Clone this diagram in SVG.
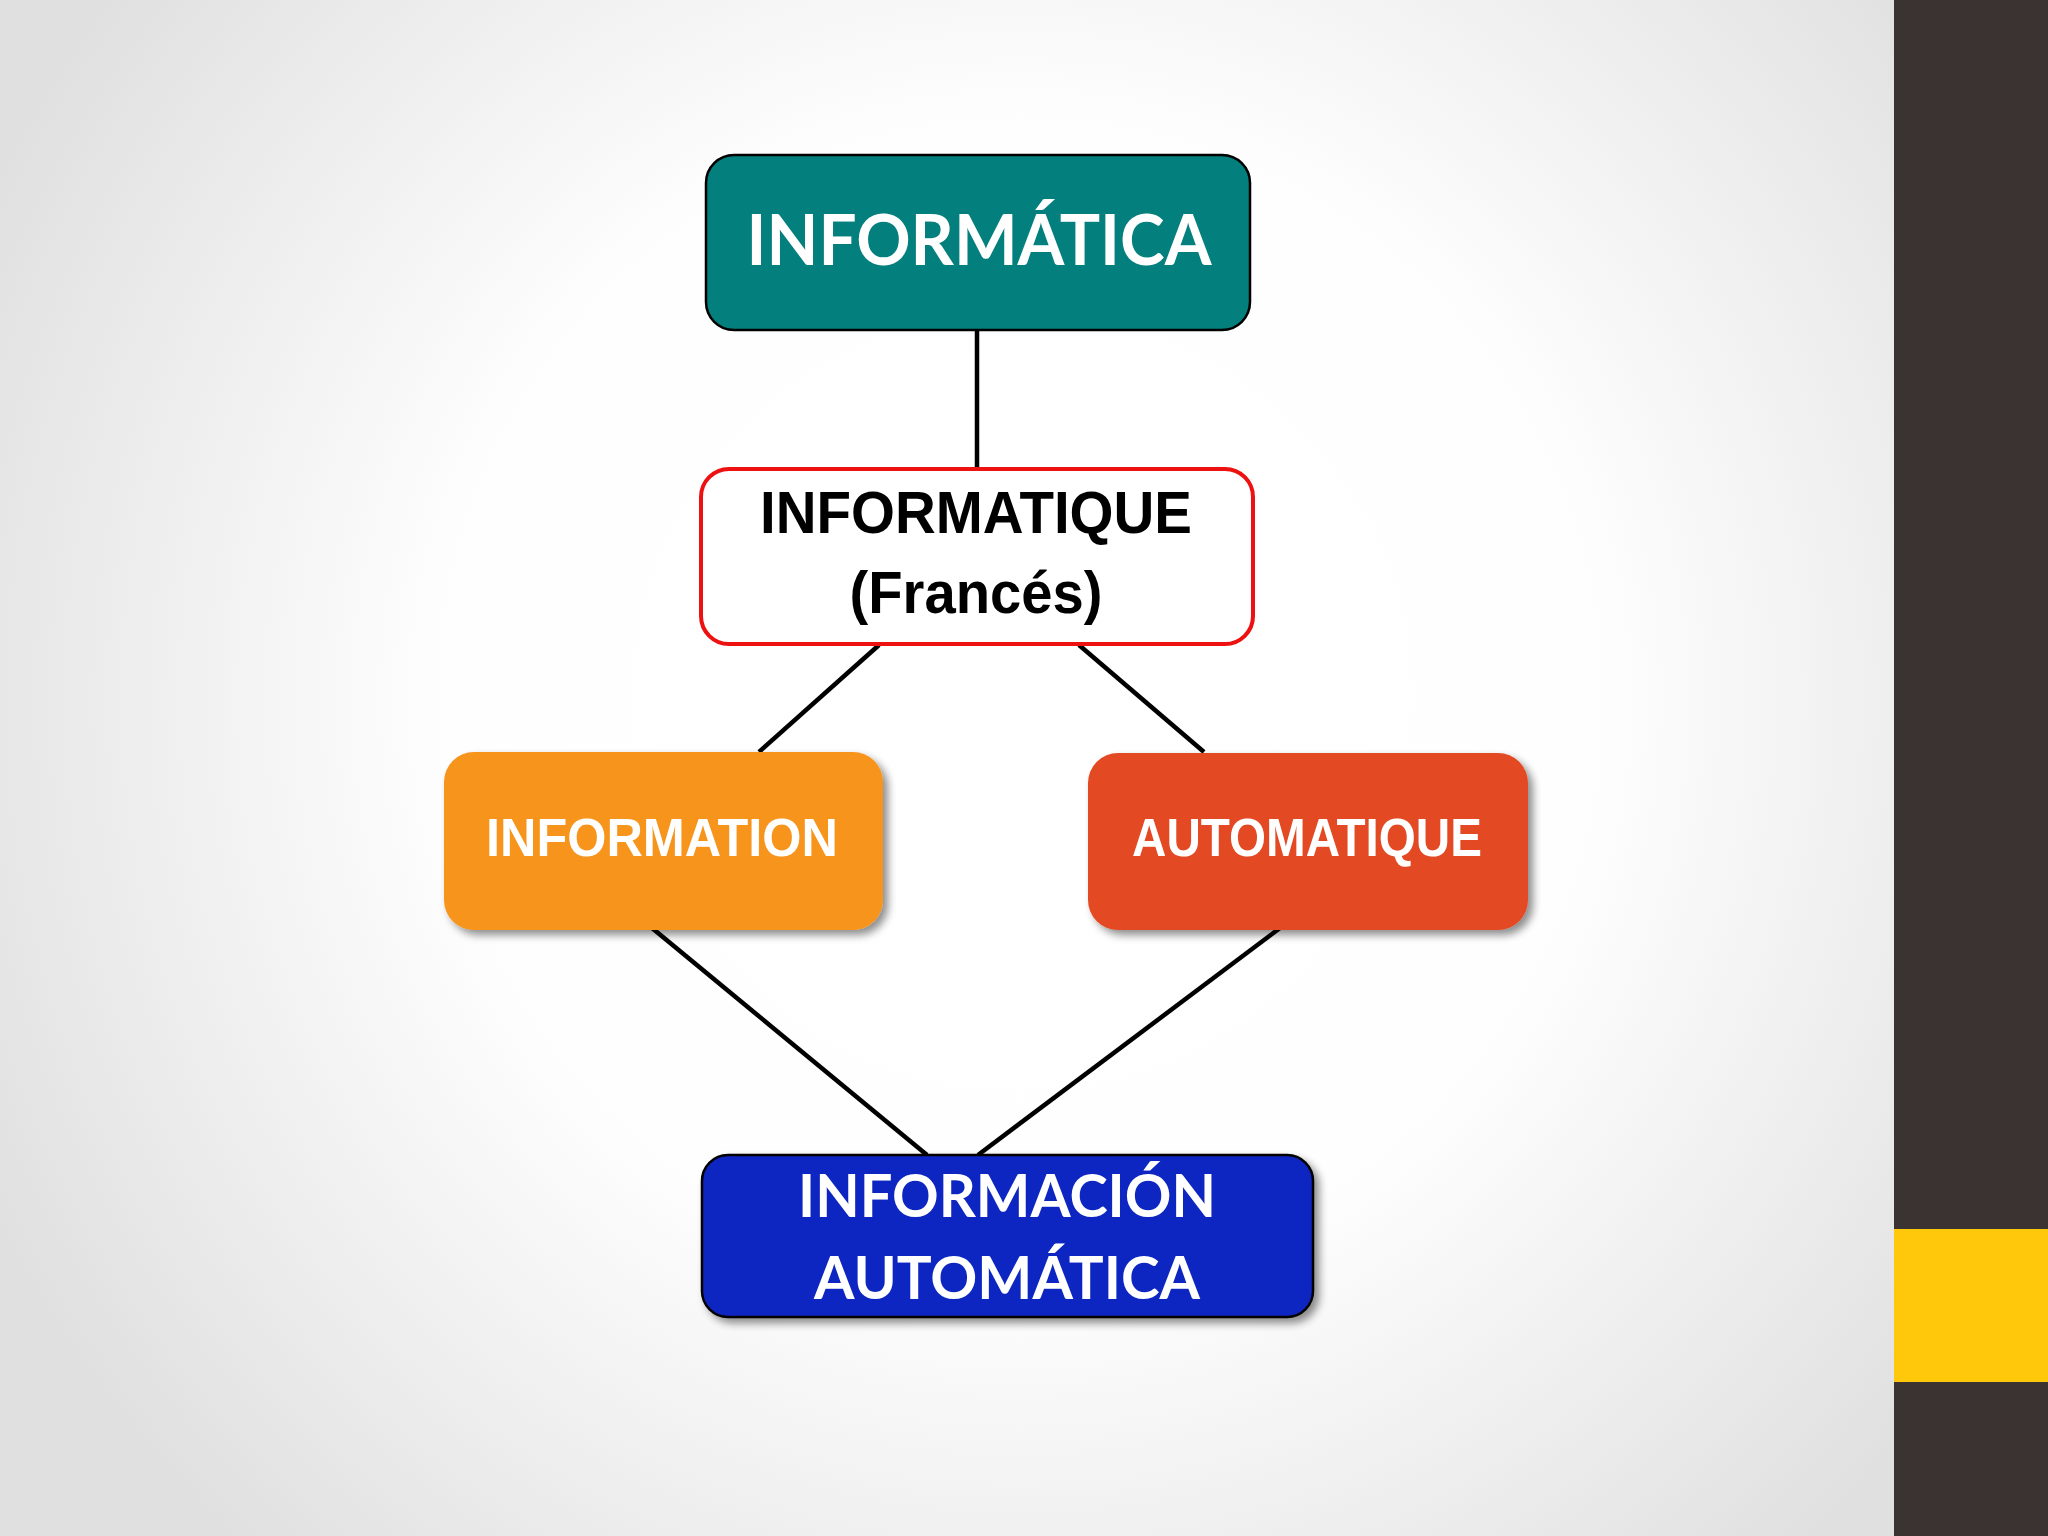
<svg xmlns="http://www.w3.org/2000/svg" width="2048" height="1536" viewBox="0 0 2048 1536">
<defs>
<radialGradient id="bg" cx="1020" cy="700" r="1150" gradientUnits="userSpaceOnUse">
<stop offset="0" stop-color="#ffffff"/>
<stop offset="0.5" stop-color="#fefefe"/>
<stop offset="1" stop-color="#e0e0e0"/>
</radialGradient>
<filter id="sh" x="-10%" y="-10%" width="125%" height="130%">
<feGaussianBlur in="SourceAlpha" stdDeviation="4"/>
<feOffset dx="5" dy="5" result="b"/>
<feComponentTransfer><feFuncA type="linear" slope="0.45"/></feComponentTransfer>
<feMerge><feMergeNode/><feMergeNode in="SourceGraphic"/></feMerge>
</filter>
<style>
.conn{stroke:#000;stroke-width:4.5;fill:none}
.cal{font-family:Lato,"Open Sans","Liberation Sans",sans-serif;font-weight:bold;fill:#fff;text-anchor:middle}
.ar{font-family:"Liberation Sans",Arial,sans-serif;font-weight:bold;text-anchor:middle}
</style>
</defs>
<rect width="2048" height="1536" fill="url(#bg)"/>
<rect x="1894" y="0" width="154" height="1536" fill="#3b3331"/>
<rect x="1894" y="1229" width="154" height="153" fill="#ffc80a"/>
<g id="connectors">
<line class="conn" x1="977" y1="330" x2="977" y2="468"/>
<line class="conn" x1="879" y1="645" x2="759" y2="752"/>
<line class="conn" x1="1079" y1="645" x2="1204" y2="752"/>
<line class="conn" x1="652" y1="928" x2="927" y2="1155"/>
<line class="conn" x1="1280" y1="928" x2="978" y2="1155"/>
</g>
<g id="informatica">
<rect x="706" y="155" width="544" height="175" rx="28" fill="#037f7e" stroke="#000" stroke-width="2.5"/>
<text class="cal" x="979" y="265" font-size="70" textLength="465" lengthAdjust="spacingAndGlyphs">INFORMÁTICA</text>
</g>
<g id="informatique">
<rect x="701" y="469" width="552" height="175" rx="28" fill="#fff" stroke="#ee1111" stroke-width="4"/>
<text class="ar" x="976" y="533" font-size="60" textLength="432" lengthAdjust="spacingAndGlyphs">INFORMATIQUE</text>
<text class="ar" x="976" y="613" font-size="60" textLength="253" lengthAdjust="spacingAndGlyphs">(Francés)</text>
</g>
<g id="information">
<rect x="444" y="752" width="439" height="178" rx="30" fill="#f7941e" filter="url(#sh)"/>
<text class="ar" x="662" y="856" font-size="53" fill="#fff" textLength="352" lengthAdjust="spacingAndGlyphs">INFORMATION</text>
</g>
<g id="automatique">
<rect x="1088" y="753" width="440" height="177" rx="30" fill="#e34a23" filter="url(#sh)"/>
<text class="ar" x="1307" y="856" font-size="53" fill="#fff" textLength="350" lengthAdjust="spacingAndGlyphs">AUTOMATIQUE</text>
</g>
<g id="informacion-automatica">
<rect x="702" y="1155" width="611" height="162" rx="26" fill="#1128c2" stroke="#000" stroke-width="2.5" filter="url(#sh)"/>
<text class="cal" x="1007" y="1217" font-size="59" textLength="418" lengthAdjust="spacingAndGlyphs">INFORMACIÓN</text>
<text class="cal" x="1007" y="1299" font-size="59" textLength="386" lengthAdjust="spacingAndGlyphs">AUTOMÁTICA</text>
</g>
</svg>
